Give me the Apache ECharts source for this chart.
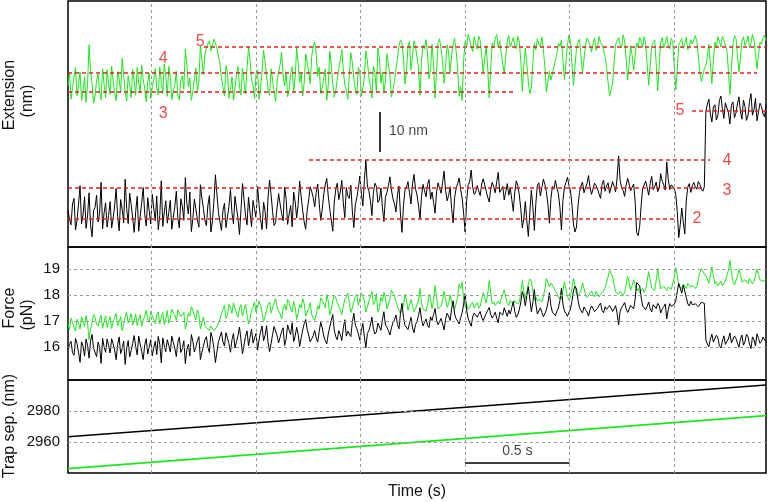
<!DOCTYPE html>
<html><head><meta charset="utf-8">
<script src="https://cdn.jsdelivr.net/npm/echarts@6/dist/echarts.min.js"></script>
<style>html,body{margin:0;padding:0;background:#fff}#c{width:768px;height:502px}</style>
</head><body><div id="c"></div>
<script>
// ---- data (time in s, extension in nm with arbitrary offset, force in pN, trap separation in nm)
// on-grid samples every sampleStep seconds, plus "Mid" samples half a step later
const sampleStart = 0.1, sampleStep = 0.014397;
const greenExt = [40.5,37.2,42.8,38.1,44.0,39.5,36.4,50.8,41.2,38.0,
43.5,37.1,40.9,44.6,38.4,41.7,36.8,42.3,47.5,39.2,
43.1,37.6,41.8,45.2,38.9,42.0,36.5,43.7,40.1,44.9,
38.3,41.5,46.0,37.9,42.6,39.4,44.2,37.0,43.0,49.8,
40.3,36.9,42.1,39.0,50.6,43.4,50.0,51.8,49.6,51.2,
50.4,42.5,38.0,44.1,39.6,36.9,43.3,40.2,45.0,38.5,
50.2,42.0,37.4,44.5,39.8,49.5,43.0,38.2,41.9,36.6,
44.0,49.0,40.5,37.8,43.6,39.1,50.1,41.4,38.0,48.5,
44.2,47.9,51.5,43.0,38.6,42.4,36.9,49.2,41.0,39.3,
44.8,49.6,40.7,37.2,48.8,42.5,38.4,44.0,40.1,49.3,
42.8,37.5,43.9,50.0,41.2,38.7,48.6,43.1,39.5,44.7,
50.4,51.2,41.0,50.5,44.5,51.8,49.9,38.2,50.7,52.1,
42.3,50.9,37.5,51.4,49.6,41.2,50.8,43.8,51.0,49.2,
38.0,36.8,51.6,53.5,50.4,52.8,49.7,51.9,44.0,50.6,
37.5,51.3,52.4,50.1,48.6,43.6,51.7,50.2,52.6,49.8,
51.5,39.2,50.0,41.5,40.0,51.1,52.3,50.4,49.5,39.0,
44.2,43.5,45.0,51.2,52.0,42.1,50.8,51.6,40.6,49.9,
52.2,43.8,50.7,51.9,49.0,52.5,50.3,51.4,49.6,45.0,
38.0,41.3,50.9,52.6,50.0,51.8,42.0,50.6,44.5,51.3,
52.7,50.2,51.0,40.7,50.5,52.0,39.3,51.4,50.0,52.9,
49.8,51.6,39.6,50.8,52.3,51.0,49.6,52.1,50.5,51.7,
44.0,43.2,45.6,50.9,41.1,51.5,52.8,50.3,51.9,49.4,
38.4,51.0,52.4,44.0,51.7,50.6,53.0,51.2,52.0,44.8,
51.5,52.6,51.8];
const greenExtMid = [43.9,39.8,45.1,40.6,36.9,42.7,41.0,44.3,36.2,41.9,
39.4,44.8,37.6,41.1,45.5,39.0,44.1,38.8,43.2,36.7,
40.8,44.6,38.2,41.4,45.7,39.9,41.6,37.3,42.2,40.0,
45.3,38.6,42.9,45.4,37.1,40.7,38.0,42.0,39.7,45.8,
42.5,39.2,45.0,41.7,47.0,48.5,51.0,49.3,52.2,50.0,
46.0,40.3,45.6,37.4,42.8,39.9,45.4,38.3,41.6,44.9,
47.2,40.6,43.5,37.2,44.0,46.5,39.7,44.8,38.9,41.5,
45.8,43.0,44.1,39.5,45.3,42.7,46.0,43.6,41.2,49.0,
41.0,50.3,48.4,45.2,40.1,44.7,40.8,45.9,37.7,42.3,
47.0,44.5,39.4,43.0,46.3,39.6,45.1,37.9,42.6,46.8,
40.4,45.5,39.0,47.5,44.0,41.8,45.9,37.8,41.4,47.3,
52.0,47.5,44.2,51.6,48.0,50.3,45.0,46.8,49.8,48.7,
44.9,46.0,44.0,52.3,46.7,45.5,49.0,48.2,52.4,45.0,
40.5,47.0,50.2,52.0,49.1,51.3,53.0,48.0,47.4,45.0,
44.6,50.0,53.4,51.8,46.0,48.2,53.1,51.4,50.7,52.9,
47.0,45.5,46.2,38.6,46.0,49.6,51.0,52.7,45.3,41.5,
42.0,45.3,48.6,50.4,47.0,46.4,53.2,46.1,45.2,51.5,
48.0,47.2,52.5,50.6,51.1,49.4,52.9,50.8,47.8,41.4,
39.5,46.2,51.2,50.9,53.3,47.3,46.0,48.1,47.9,50.1,
51.6,52.8,45.9,45.5,51.3,46.1,45.8,52.6,51.2,50.8,
52.4,45.4,44.7,51.1,49.9,52.7,50.4,51.0,53.1,48.0,
41.6,44.8,47.9,46.0,46.6,50.2,51.7,52.9,50.6,44.2,
45.0,53.1,48.3,47.5,52.8,51.4,50.1,53.4,48.6,48.2,
50.9,53.2];
const blackExt = [9.5,5.8,12.4,7.0,15.6,8.3,4.9,13.8,2.8,10.2,
6.5,16.4,8.8,5.2,11.6,7.4,14.9,4.3,9.7,17.2,
6.1,10.8,3.9,12.9,8.0,15.1,5.5,9.2,13.4,6.8,
4.6,16.8,9.0,6.2,11.9,7.7,14.2,5.0,10.4,17.6,
8.5,4.1,12.2,7.1,15.8,9.9,5.6,13.1,6.7,18.3,
8.9,4.4,11.2,7.8,14.6,6.0,10.1,3.4,16.1,8.2,
12.7,5.3,9.6,15.4,7.2,11.5,4.8,17.0,9.1,6.4,
13.6,8.6,15.2,5.9,10.6,14.0,7.5,16.7,9.4,4.7,
12.0,14.1,10.3,16.0,6.9,13.5,17.4,9.8,4.2,14.7,
12.1,16.9,7.6,13.0,15.7,5.1,12.6,18.0,10.5,22.0,
14.3,8.1,16.2,11.4,15.0,6.6,13.9,17.8,12.3,9.0,
15.5,3.9,14.4,16.6,11.0,18.4,13.2,7.3,15.9,12.8,
17.1,14.0,8.7,16.3,13.7,19.2,11.8,15.3,6.3,14.9,
17.5,12.5,4.0,15.8,19.5,13.4,15.6,13.1,17.3,14.2,
11.5,16.4,13.8,18.9,14.6,12.0,16.1,15.0,9.2,16.8,
13.3,5.0,11.6,2.9,14.5,4.4,15.7,13.0,17.2,14.1,
6.2,15.4,16.9,13.6,4.5,15.2,17.7,14.4,6.0,5.2,
13.9,16.5,15.0,18.1,13.4,16.2,14.8,12.4,17.0,15.5,
13.7,16.6,14.0,23.0,15.1,12.9,17.4,14.3,16.0,3.8,
5.4,14.9,16.7,13.2,17.9,15.3,14.1,18.6,15.8,21.5,
14.6,16.3,13.5,2.6,10.0,3.5,15.2,13.9,16.4,14.7,
15.9,14.2,34.0,37.2,31.5,35.8,33.1,38.0,32.4,35.0,
31.0,36.5,33.7,37.8,32.2,35.4,33.0,38.6,34.6,31.8,
36.2,33.5,35.9];
const blackExtMid = [7.2,11.0,4.5,10.9,6.1,12.8,8.0,5.7,9.4,13.2,
8.7,4.8,11.3,8.2,5.0,10.5,7.9,12.1,6.3,9.9,
13.7,7.5,9.1,4.2,11.4,8.4,12.6,6.0,10.0,13.0,
8.1,5.4,11.8,8.9,4.7,10.3,7.6,12.3,6.9,11.1,
14.0,7.3,9.8,5.2,12.5,7.0,10.7,4.0,11.7,13.5,
6.6,9.3,5.1,10.4,8.8,12.9,7.4,9.6,12.2,5.8,
9.0,11.9,7.7,10.8,4.6,9.2,12.7,13.3,5.6,10.2,
11.0,6.8,12.4,8.5,5.3,11.6,10.9,12.8,6.5,9.5,
15.3,12.6,13.9,11.2,9.6,15.8,13.0,7.0,11.5,16.2,
14.0,11.3,15.1,12.4,9.3,10.8,14.9,13.6,16.8,15.5,
11.9,13.7,15.4,12.0,10.2,12.7,15.6,14.5,11.1,13.3,
8.5,10.6,15.2,13.8,16.0,14.8,10.7,12.9,14.3,15.9,
12.2,11.4,14.1,15.0,16.4,14.4,13.1,9.9,12.6,16.1,
14.7,8.6,11.7,16.5,15.2,14.0,14.3,16.0,15.8,12.7,
14.9,15.3,16.6,13.9,15.4,14.1,13.2,12.1,14.0,15.6,
9.8,7.4,6.8,8.9,10.3,11.2,16.3,15.1,15.9,11.0,
12.3,14.7,15.0,10.1,11.8,16.4,15.7,10.8,4.0,10.5,
15.5,13.8,16.1,15.2,14.8,15.6,13.5,15.9,14.2,16.3,
15.0,15.4,17.5,16.9,14.4,15.7,16.0,15.2,11.6,3.1,
10.7,15.4,15.1,16.2,14.6,16.5,15.0,16.7,14.5,17.2,
15.8,14.9,9.1,5.9,6.4,12.0,16.1,15.6,15.3,16.6,
14.8,15.3,36.0,33.6,35.2,32.0,36.9,34.8,36.3,33.9,
35.7,32.6,36.0,34.1,37.0,31.9,36.6,33.2,37.4,34.0,
35.4,32.8];
const greenForce = [16.88,17.11,16.75,17.07,16.69,17.00,17.21,16.28,16.92,17.14,
16.80,17.22,16.98,16.76,17.17,16.96,17.29,16.95,16.62,17.17,
16.92,17.29,17.03,16.82,17.24,17.04,17.41,16.95,17.20,16.90,
17.35,17.15,16.86,17.40,17.11,17.32,17.02,17.50,17.12,16.69,
17.32,17.55,17.22,17.43,16.69,17.16,16.74,16.64,16.79,16.70,
16.77,17.29,17.60,17.21,17.51,17.70,17.29,17.50,17.20,17.63,
16.88,17.42,17.73,17.28,17.60,16.98,17.41,17.73,17.50,17.86,
17.39,17.08,17.64,17.83,17.46,17.76,17.06,17.63,17.87,17.19,
17.48,17.25,17.03,17.59,17.89,17.65,18.02,17.23,17.77,17.89,
17.55,17.25,17.84,18.08,17.33,17.75,18.03,17.67,17.94,17.35,
17.78,18.14,17.73,17.34,17.93,18.10,17.47,17.83,18.08,17.75,
17.40,17.36,18.03,17.42,17.82,17.36,17.49,18.26,17.46,17.38,
18.03,17.48,18.36,17.46,17.59,18.15,17.53,18.00,17.54,17.67,
18.42,18.50,17.55,17.44,17.65,17.50,17.71,17.58,18.10,17.69,
18.55,17.66,17.60,17.76,17.87,18.20,17.68,17.79,17.65,17.84,
17.75,18.56,17.86,18.43,18.54,17.82,17.76,17.89,17.96,18.65,
18.32,18.38,18.29,17.90,17.85,18.51,17.95,17.91,18.64,18.04,
17.91,18.47,18.03,17.96,18.16,17.94,18.10,18.03,18.16,18.47,
18.94,18.73,18.12,18.02,18.19,18.09,18.73,18.19,18.59,18.16,
18.09,18.26,18.22,18.90,18.27,18.18,19.02,18.24,18.34,18.17,
18.38,18.27,19.06,18.34,18.26,18.35,18.45,18.30,18.41,18.34,
18.86,18.93,18.78,18.45,19.09,18.43,18.35,18.53,18.43,18.60,
19.33,18.52,18.44,18.99,18.50,18.59,18.44,18.57,18.52,19.00,
18.59,18.53,18.59];
const greenForceMid = [16.67,16.94,16.61,16.91,17.16,16.79,16.92,16.71,17.25,16.89,
17.06,16.72,17.20,16.98,16.71,17.14,16.82,17.17,16.90,17.33,
17.08,16.85,17.27,17.07,16.80,17.19,17.09,17.38,17.07,17.23,
16.89,17.34,17.07,16.91,17.46,17.24,17.43,17.17,17.33,16.96,
17.18,17.41,17.04,17.26,16.93,16.84,16.69,16.81,16.63,16.78,
17.05,17.44,17.10,17.64,17.30,17.50,17.15,17.63,17.43,17.23,
17.09,17.53,17.35,17.77,17.33,17.18,17.63,17.31,17.71,17.55,
17.28,17.47,17.41,17.72,17.35,17.53,17.32,17.50,17.67,17.17,
17.70,17.11,17.24,17.46,17.80,17.51,17.77,17.45,17.99,17.71,
17.41,17.58,17.92,17.70,17.50,17.94,17.60,18.08,17.79,17.52,
17.95,17.63,18.06,17.52,17.75,17.91,17.65,18.19,17.96,17.59,
17.29,17.60,17.82,17.35,17.59,17.46,17.81,17.70,17.52,17.60,
17.86,17.79,17.93,17.41,17.78,17.87,17.65,17.71,17.46,17.95,
18.25,17.84,17.64,17.53,17.73,17.60,17.50,17.83,17.88,18.05,
18.09,17.74,17.53,17.65,18.03,17.90,17.59,17.72,17.78,17.65,
18.04,18.15,18.11,18.62,18.14,17.92,17.84,17.74,18.23,18.49,
18.46,18.26,18.06,17.95,18.18,18.23,17.81,18.28,18.35,17.95,
18.18,18.25,17.91,18.05,18.02,18.14,17.93,18.07,18.28,18.70,
18.84,18.41,18.10,18.14,17.99,18.39,18.48,18.36,18.38,18.25,
18.16,18.09,18.55,18.59,18.22,18.57,18.60,18.17,18.27,18.31,
18.22,18.68,18.74,18.33,18.42,18.25,18.41,18.38,18.25,18.59,
19.02,18.82,18.63,18.76,18.74,18.51,18.42,18.36,18.53,18.95,
18.91,18.39,18.72,18.78,18.44,18.54,18.64,18.43,18.76,18.79,
18.63,18.49];
const blackForce = [15.91,16.22,15.68,16.13,15.41,16.03,16.31,15.57,16.48,15.88,
16.19,15.37,16.01,16.31,15.77,16.13,15.51,16.39,15.94,15.33,
16.25,15.86,16.44,15.70,16.10,15.52,16.32,16.01,15.66,16.22,
16.41,15.39,16.05,16.28,15.81,16.17,15.63,16.39,15.94,15.36,
16.11,16.48,15.81,16.24,15.52,16.03,16.40,15.79,16.34,15.40,
16.20,16.58,16.04,16.34,15.80,16.52,16.20,16.77,15.74,16.41,
16.05,16.69,16.35,15.88,16.58,16.24,16.82,15.82,16.49,16.74,
16.16,16.59,16.06,16.85,16.48,16.21,16.76,16.02,16.65,17.06,
16.46,16.31,16.64,16.19,16.95,16.43,16.12,16.77,17.25,16.40,
16.63,16.25,17.05,16.61,16.40,17.30,16.70,16.26,16.91,15.97,
16.63,17.15,16.50,16.92,16.64,17.36,16.76,16.46,16.94,17.23,
16.70,17.68,16.83,16.67,17.14,16.55,17.00,17.51,16.81,17.08,
16.75,17.02,17.48,16.86,17.10,16.66,17.30,17.02,17.78,17.09,
16.89,17.32,18.05,17.09,16.80,17.31,17.15,17.37,17.02,17.29,
17.52,17.12,17.34,16.93,17.29,17.51,17.18,17.27,17.76,17.14,
17.43,18.13,17.59,18.32,17.36,18.21,17.27,17.51,17.17,17.43,
18.09,17.34,17.21,17.50,18.26,17.38,17.18,17.46,18.16,18.24,
17.52,17.31,17.44,17.19,17.58,17.36,17.49,17.69,17.32,17.45,
17.60,17.37,17.59,16.85,17.51,17.71,17.33,17.60,17.47,18.48,
18.36,17.58,17.43,17.73,17.35,17.57,17.68,17.31,17.55,17.08,
17.67,17.52,17.77,18.45,18.07,18.40,17.66,17.76,17.57,17.72,
17.62,17.77,16.27,16.01,16.49,16.14,16.36,15.96,16.43,16.21,
16.54,16.10,16.33,15.99,16.46,16.20,16.40,15.94,16.28,16.51,
16.14,16.38,16.18];
const blackForceMid = [16.10,15.78,16.33,15.80,16.20,15.65,16.05,16.24,15.95,15.63,
16.00,16.33,15.80,16.06,16.32,15.88,16.09,15.74,16.23,15.94,
15.62,16.14,16.01,16.42,15.82,16.08,15.73,16.28,15.96,15.71,
16.11,16.35,15.82,16.06,16.42,15.95,16.18,15.79,16.24,15.90,
15.65,16.22,16.01,16.40,15.80,16.28,15.98,16.56,15.94,15.81,
16.39,16.19,16.55,16.13,16.28,15.96,16.43,16.27,16.07,16.62,
16.37,16.15,16.52,16.27,16.81,16.44,16.17,16.13,16.79,16.43,
16.38,16.74,16.30,16.64,16.93,16.42,16.49,16.35,16.90,16.67,
16.20,16.44,16.35,16.60,16.74,16.25,16.50,17.02,16.65,16.28,
16.48,16.73,16.42,16.67,16.95,16.84,16.51,16.64,16.39,16.52,
16.84,16.70,16.58,16.88,17.05,16.85,16.63,16.74,17.05,16.87,
17.29,17.14,16.78,16.91,16.74,16.86,17.22,17.06,16.95,16.84,
17.16,17.25,17.04,16.98,16.89,17.07,17.19,17.48,17.27,17.00,
17.13,17.65,17.42,17.04,17.16,17.27,17.26,17.13,17.16,17.41,
17.24,17.22,17.11,17.34,17.23,17.34,17.42,17.52,17.36,17.24,
17.73,17.93,17.99,17.83,17.71,17.65,17.23,17.33,17.28,17.69,
17.59,17.40,17.38,17.79,17.66,17.29,17.34,17.76,18.34,17.80,
17.39,17.54,17.35,17.44,17.48,17.41,17.60,17.41,17.55,17.38,
17.50,17.47,17.30,17.36,17.57,17.47,17.46,17.53,17.83,18.55,
17.92,17.54,17.57,17.48,17.63,17.48,17.60,17.47,17.66,17.44,
17.57,17.65,18.13,18.41,18.38,17.91,17.58,17.63,17.66,17.56,
17.72,17.68,16.11,16.31,16.19,16.45,16.05,16.23,16.10,16.31,
16.16,16.42,16.15,16.31,16.07,16.49,16.11,16.39,16.04,16.33,
16.22,16.43];
const trapTime = [0.1, 3.44];
const trapBlack = [2963.4, 2996.8];
const trapGreen = [2942.8, 2977.0];
const gridTimes = [0.5, 1.0, 1.5, 2.0, 2.5, 3.0];
const forceTicks = [16, 17, 18, 19];
const trapTicks = [2960, 2980];
// state levels (dashed red lines): label, value (nm), start/end time, label anchor
const levelNames = ['3', '4', '5', '2', '3', '4', '5'];
const levelValues = [39.0, 43.75, 50.25, 7.25, 15.0, 22.0, 34.25];
const levelStart = [0.1, 0.1, 0.751, 0.1, 0.1, 1.253, 3.086];
const levelEnd = [2.239, 3.397, 3.44, 3.019, 3.148, 3.172, 3.44];
const levelLabelTime = [0.555, 0.555, 0.732, 3.110, 3.253, 3.253, 3.028];
const levelLabelValue = [33.5, 47.25, 51.5, 7.25, 14.25, 21.75, 34.25];
// scale bars
const extBarTime = 1.593, extBarFrom = 24, extBarTo = 34, extBarLabel = '10 nm', extBarLabelTime = 1.636, extBarLabelValue = 29.25;
const timeBarFrom = 2.0, timeBarTo = 2.5, timeBarValue = 2946.5, timeBarLabel = '0.5 s', timeBarLabelValue = 2954.2;

// ---- chart
const FONT = '"Liberation Sans", Arial, Helvetica, sans-serif';
const GREEN = '#1ee61e';
const RED = '#e0201c';
const GRIDLINE = {color: '#9a9a9a', width: 1, type: [3, 3]};

function pairs(onGrid, mid) {
  const out = [];
  onGrid.forEach((v, i) => {
    const t = sampleStart + i * sampleStep;
    out.push([t, v]);
    if (mid && i < mid.length) out.push([t + sampleStep / 2, mid[i]]);
  });
  return out;
}
function markGrid(hVals) {
  const d = gridTimes.map(t => ({xAxis: t}));
  (hVals || []).forEach(v => d.push({yAxis: v}));
  return {silent: true, symbol: ['none', 'none'], label: {show: false}, lineStyle: GRIDLINE, data: d, animation: false, emphasis: {disabled: true}};
}
function gridSeries(ax, hVals, dataVals) {
  return {type: 'line', xAxisIndex: ax, yAxisIndex: ax, z: 1, data: pairs(dataVals), showSymbol: false,
    lineStyle: {opacity: 0}, silent: true, markLine: markGrid(hVals)};
}
function trace(ax, vals, mid, color) {
  return {type: 'line', xAxisIndex: ax, yAxisIndex: ax, z: 3, data: pairs(vals, mid), showSymbol: false, symbol: 'none',
    lineStyle: {color: color, width: 1}, silent: true};
}
function textSeries(ax, items, color, size, pos) {
  return {type: 'scatter', xAxisIndex: ax, yAxisIndex: ax, z: 5, symbolSize: 0, silent: true,
    data: items.map(it => ({name: it[2], value: [it[0], it[1]]})),
    label: {show: true, position: pos || 'inside', distance: 0, formatter: p => p.name, color: color, fontSize: size, fontFamily: FONT}};
}

const grids = [
  {left: 68, width: 698, top: 1, height: 246},
  {left: 68, width: 698, top: 247, height: 133},
  {left: 68, width: 698, top: 380, height: 93}
].map(g => Object.assign(g, {show: true, borderColor: '#000', borderWidth: 1.5, backgroundColor: 'transparent', containLabel: false, outerBoundsMode: 'none'}));

const xAxes = [0, 1, 2].map(i => ({type: 'value', gridIndex: i, min: 0.1, max: 3.44,
  axisLine: {show: false}, axisTick: {show: false}, axisLabel: {show: false}, splitLine: {show: false}}));
Object.assign(xAxes[2], {name: 'Time (s)', nameLocation: 'middle', nameGap: 11,
  nameTextStyle: {fontSize: 16, color: '#111', fontFamily: FONT}});

const labelStyle = {fontSize: 15, color: '#111', fontFamily: FONT, margin: 8, formatter: v => String(v)};
const yAxes = [
  {type: 'value', gridIndex: 0, min: 0.25, max: 61.75, axisLine: {show: false}, axisTick: {show: false}, axisLabel: {show: false}, splitLine: {show: false}},
  {type: 'value', gridIndex: 1, min: 14.73, max: 19.85, axisLine: {show: false}, axisTick: {show: false},
    axisLabel: Object.assign({customValues: forceTicks}, labelStyle), splitLine: {show: false}},
  {type: 'value', gridIndex: 2, min: 2940, max: 3000, axisLine: {show: false}, axisTick: {show: false},
    axisLabel: Object.assign({customValues: trapTicks}, labelStyle), splitLine: {show: false}}
];

const series = [
  gridSeries(0, [], greenExt),
  gridSeries(1, forceTicks, greenForce),
  gridSeries(2, trapTicks, trapGreen),
  trace(0, greenExt, greenExtMid, GREEN),
  trace(0, blackExt, blackExtMid, '#000'),
  trace(1, greenForce, greenForceMid, GREEN),
  trace(1, blackForce, blackForceMid, '#000'),
  {type: 'line', xAxisIndex: 2, yAxisIndex: 2, z: 3, data: trapTime.map((t, i) => [t, trapBlack[i]]), showSymbol: false, lineStyle: {color: '#000', width: 1.6}, silent: true},
  {type: 'line', xAxisIndex: 2, yAxisIndex: 2, z: 3, data: trapTime.map((t, i) => [t, trapGreen[i]]), showSymbol: false, lineStyle: {color: GREEN, width: 1.6}, silent: true},
  {type: 'line', xAxisIndex: 2, yAxisIndex: 2, z: 4, data: [[timeBarFrom, timeBarValue], [timeBarTo, timeBarValue]], showSymbol: false, lineStyle: {color: '#000', width: 1.6}, silent: true},
  textSeries(2, [[(timeBarFrom + timeBarTo) / 2, timeBarLabelValue, timeBarLabel]], '#111', 14),
  {type: 'line', xAxisIndex: 0, yAxisIndex: 0, z: 4, data: [[extBarTime, extBarFrom], [extBarTime, extBarTo]], showSymbol: false, lineStyle: {color: '#000', width: 1.6}, silent: true},
  textSeries(0, [[extBarLabelTime, extBarLabelValue, extBarLabel]], '#111', 14, 'right'),
  textSeries(0, levelNames.map((n, k) => [levelLabelTime[k], levelLabelValue[k], n]), RED, 16)
];
levelNames.forEach((n, k) => {
  series.push({type: 'line', xAxisIndex: 0, yAxisIndex: 0, z: 4,
    data: [[levelStart[k], levelValues[k]], [levelEnd[k], levelValues[k]]], showSymbol: false,
    lineStyle: {color: RED, width: 1.3, type: [4, 3]}, silent: true});
});

const rot = Math.PI / 2;
const axisTitle = (x, y, text) => ({type: 'text', x: x, y: y, rotation: rot, silent: true,
  style: {text: text, fill: '#111', fontSize: 16, fontFamily: FONT, align: 'center', verticalAlign: 'middle'}});

const chart = echarts.init(document.getElementById('c'), null, {renderer: 'canvas', width: 768, height: 502});
chart.setOption({
  animation: false,
  backgroundColor: '#fff',
  grid: grids,
  xAxis: xAxes,
  yAxis: yAxes,
  series: series,
  graphic: [
    axisTitle(10, 95, 'Extension'),
    axisTitle(28, 101, '(nm)'),
    axisTitle(10, 308, 'Force'),
    axisTitle(28, 315, '(pN)'),
    axisTitle(10, 426, 'Trap sep. (nm)')
  ]
});
</script>
</body></html>
